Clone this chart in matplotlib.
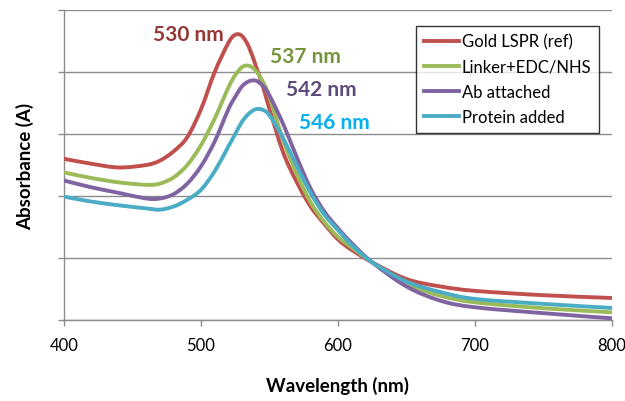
import matplotlib
matplotlib.use("Agg")
import matplotlib.pyplot as plt
from matplotlib.path import Path
from matplotlib.patches import PathPatch
from matplotlib.lines import Line2D
import numpy as np

wavelength = [400, 420, 440, 460, 470, 480, 490, 500, 510, 520, 525, 530, 535, 540,
              545, 550, 560, 570, 580, 590, 600, 610, 625, 650, 675, 700, 750, 800]

gold_ref = [0.260, 0.252, 0.246, 0.250, 0.257, 0.272, 0.295, 0.340, 0.400, 0.447, 0.460,
            0.458, 0.440, 0.410, 0.378, 0.340, 0.270, 0.222, 0.183, 0.155, 0.130, 0.113,
            0.093, 0.066, 0.054, 0.047, 0.040, 0.0355]
linker = [0.238, 0.229, 0.222, 0.218, 0.220, 0.230, 0.250, 0.282, 0.325, 0.375, 0.395,
          0.408, 0.410, 0.402, 0.385, 0.360, 0.290, 0.235, 0.190, 0.158, 0.134, 0.117,
          0.093, 0.058, 0.039, 0.0285, 0.019, 0.0124]
ab_attached = [0.225, 0.214, 0.205, 0.196, 0.196, 0.203, 0.220, 0.248, 0.288, 0.340, 0.360,
               0.377, 0.385, 0.386, 0.378, 0.362, 0.316, 0.262, 0.212, 0.175, 0.148, 0.124,
               0.093, 0.054, 0.031, 0.0205, 0.011, 0.0027]
protein = [0.199, 0.191, 0.185, 0.180, 0.178, 0.183, 0.194, 0.210, 0.240, 0.280, 0.300,
           0.320, 0.333, 0.340, 0.339, 0.330, 0.293, 0.248, 0.205, 0.170, 0.145, 0.121,
           0.093, 0.062, 0.045, 0.034, 0.026, 0.0194]

series_names = ["Gold LSPR (ref)", "Linker+EDC/NHS", "Ab attached", "Protein added"]
series_colors = ["#C0504D", "#9BBB59", "#8064A2", "#4BACC6"]
peak_labels = ["530 nm", "537 nm", "542 nm", "546 nm"]
peak_label_colors = ["#953735", "#77933C", "#604A7B", "#00B0F0"]
x_ticks = [400, 500, 600, 700, 800]
y_ticks = [0.0, 0.1, 0.2, 0.3, 0.4, 0.5]

plt.rcParams['font.family'] = ['Lato', 'DejaVu Sans']


def smooth_path(xs, ys):
    """Catmull-Rom smoothed line (like a spreadsheet 'smoothed line') as Bezier path."""
    x = np.asarray(xs, float)
    y = np.asarray(ys, float)
    verts = [(x[0], y[0])]
    codes = [Path.MOVETO]
    n = len(x)
    for i in range(n - 1):
        x0, y0 = (x[i - 1], y[i - 1]) if i > 0 else (x[i], y[i])
        x1, y1 = x[i], y[i]
        x2, y2 = x[i + 1], y[i + 1]
        x3, y3 = (x[i + 2], y[i + 2]) if i + 2 < n else (x2, y2)
        c1 = (x1 + (x2 - x0) / 6.0, y1 + (y2 - y0) / 6.0)
        c2 = (x2 - (x3 - x1) / 6.0, y2 - (y3 - y1) / 6.0)
        verts += [c1, c2, (x2, y2)]
        codes += [Path.CURVE4] * 3
    return Path(verts, codes)


fig = plt.figure(figsize=(6.25, 4.02), dpi=100)
ax = fig.add_axes([64/625, 1-321/402, (612-64)/625, (321-11)/402])

handles = []
for ys, name, c in zip([gold_ref, linker, ab_attached, protein], series_names, series_colors):
    patch = PathPatch(smooth_path(wavelength, ys), facecolor='none', edgecolor=c, lw=2.8,
                      capstyle='round', joinstyle='round', zorder=3)
    ax.add_patch(patch)
    handles.append(Line2D([], [], color=c, lw=2.8, label=name))

ax.set_xlim(400, 800)
ax.set_ylim(0, 0.5)
ax.set_xticks(x_ticks)
ax.set_yticks(y_ticks)
ax.set_yticklabels([])
ax.grid(axis='y', color='#8C8C8C', lw=1.0)
ax.set_axisbelow(True)
for s in ['top', 'right']:
    ax.spines[s].set_visible(False)
for s in ['left', 'bottom']:
    ax.spines[s].set_color('#8C8C8C')
    ax.spines[s].set_linewidth(1.0)
ax.tick_params(axis='both', direction='out', length=4, color='#8C8C8C', width=1.0)
ax.tick_params(axis='x', labelsize=12, pad=8)

ax.set_xlabel("Wavelength (nm)", fontsize=13.5, fontweight='bold', labelpad=17)
ax.set_ylabel("Absorbance (A)", fontsize=13.5, fontweight='bold', labelpad=14)

label_pos = [(491, 0.461), (576.5, 0.426), (587.5, 0.373), (597, 0.319)]
for (lx, ly), txt, c in zip(label_pos, peak_labels, peak_label_colors):
    ax.text(lx, ly, txt, color=c, fontsize=15, fontweight='bold', ha='center', va='center')

leg = ax.legend(handles=handles, loc='upper left', bbox_to_anchor=(416/625, 1-27/402),
                bbox_transform=fig.transFigure, fontsize=12, frameon=True, fancybox=False,
                handlelength=2.1, handletextpad=0.2, borderpad=0.45, labelspacing=0.55,
                borderaxespad=0)
leg.get_frame().set_edgecolor('black')
leg.get_frame().set_linewidth(1.0)

fig.savefig("out.png", dpi=100)
